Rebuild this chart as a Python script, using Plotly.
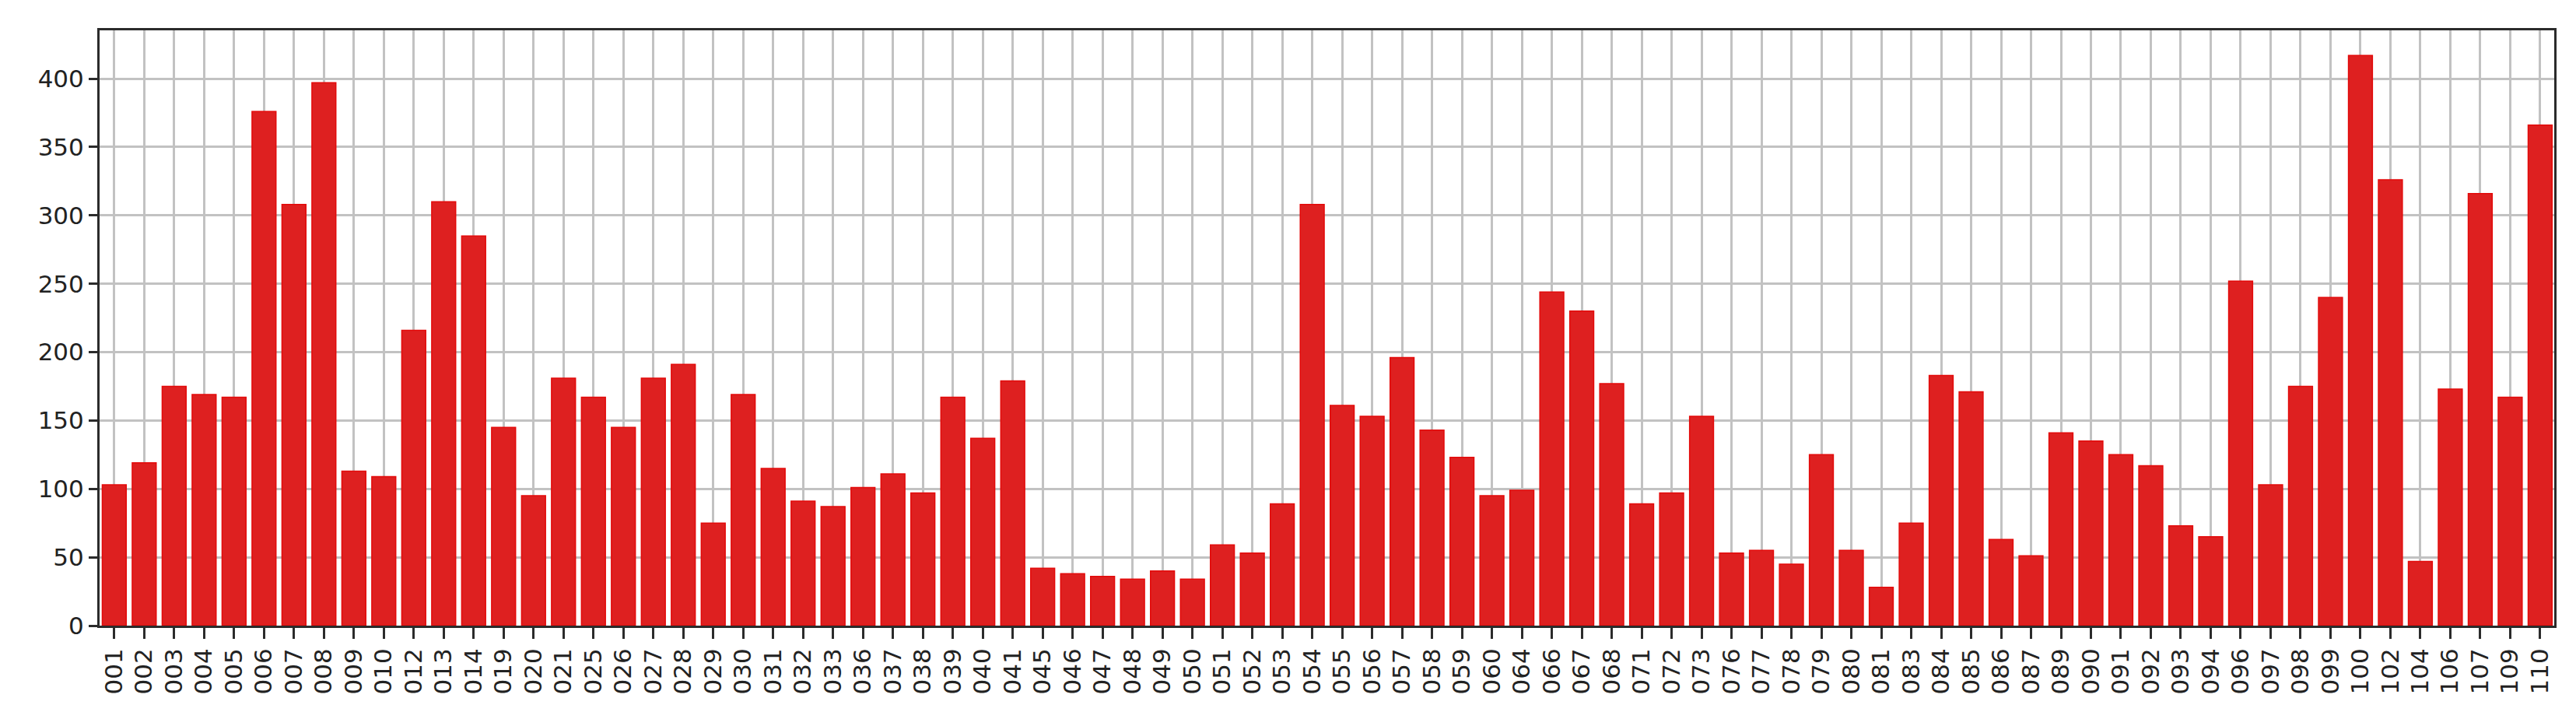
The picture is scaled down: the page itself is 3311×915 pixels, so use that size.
import plotly.graph_objects as go

labels = [
    "001", "002", "003", "004", "005", "006", "007", "008", "009", "010",
    "012", "013", "014", "019", "020", "021", "025", "026", "027", "028",
    "029", "030", "031", "032", "033", "036", "037", "038", "039", "040",
    "041", "045", "046", "047", "048", "049", "050", "051", "052", "053",
    "054", "055", "056", "057", "058", "059", "060", "064", "066", "067",
    "068", "071", "072", "073", "076", "077", "078", "079", "080", "081",
    "083", "084", "085", "086", "087", "089", "090", "091", "092", "093",
    "094", "096", "097", "098", "099", "100", "102", "104", "106", "107",
    "109", "110",
]
counts = [
    103, 119, 175, 169, 167, 376, 308, 397, 113, 109,
    216, 310, 285, 145, 95, 181, 167, 145, 181, 191,
    75, 169, 115, 91, 87, 101, 111, 97, 167, 137,
    179, 42, 38, 36, 34, 40, 34, 59, 53, 89,
    308, 161, 153, 196, 143, 123, 95, 99, 244, 230,
    177, 89, 97, 153, 53, 55, 45, 125, 55, 28,
    75, 183, 171, 63, 51, 141, 135, 125, 117, 73,
    65, 252, 103, 175, 240, 417, 326, 47, 173, 316,
    167, 366,
]
y_ticks = [0, 50, 100, 150, 200, 250, 300, 350, 400]

fig = go.Figure()
fig.add_trace(
    go.Bar(
        x=labels,
        y=counts,
        width=0.8,
        marker=dict(color="#de2020", line=dict(color="#e30a0a", width=1.5)),
    )
)

tick_font = dict(family="DejaVu Sans", size=31, color="#222222")

fig.update_layout(
    width=3311,
    height=915,
    margin=dict(l=120, r=36, t=31, b=119, autoexpand=False),
    paper_bgcolor="white",
    plot_bgcolor="white",
    showlegend=False,
    font=tick_font,
)
fig.update_xaxes(
    type="category",
    range=[-0.49, 81.47],
    tickmode="array",
    tickvals=labels,
    ticktext=labels,
    tickangle=-90,
    ticklen=14,
    tickfont=tick_font,
    showline=True,
    mirror=True,
    linecolor="#2b2b2b",
    linewidth=3,
    showgrid=True,
    gridcolor="#c2c2c2",
    gridwidth=3,
    ticks="outside",
    tickwidth=3,
    tickcolor="#2b2b2b",
    automargin=False,
)
fig.update_yaxes(
    range=[0, 435.3],
    tickmode="array",
    tickvals=y_ticks,
    ticklen=11,
    tickfont=tick_font,
    showline=True,
    mirror=True,
    linecolor="#2b2b2b",
    linewidth=3,
    showgrid=True,
    gridcolor="#c2c2c2",
    gridwidth=3,
    ticks="outside",
    tickwidth=3,
    tickcolor="#2b2b2b",
    zeroline=False,
    automargin=False,
)

fig.write_html("out.html")
